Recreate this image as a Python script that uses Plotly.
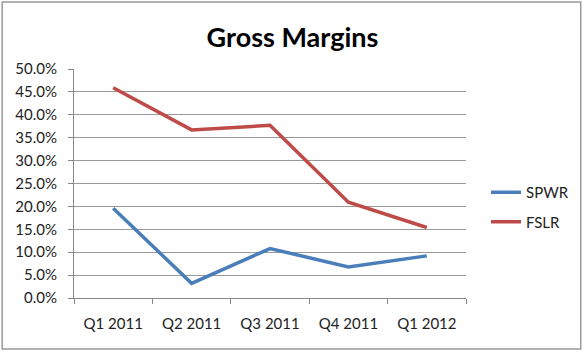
import plotly.graph_objects as go

quarters = ["Q1 2011", "Q2 2011", "Q3 2011", "Q4 2011", "Q1 2012"]
spwr = [0.196, 0.032, 0.108, 0.068, 0.092]
fslr = [0.459, 0.367, 0.377, 0.209, 0.154]
y_ticks = [i * 0.05 for i in range(11)]

W, H = 585, 352
L, R, T, B = 74, 118, 69, 54
pw, ph = W - L - R, H - T - B

def px_x(x):
    return (x - L) / pw

def px_y(y):
    return (H - B - y) / ph

fig = go.Figure()
fig.add_trace(go.Scatter(x=quarters, y=spwr, name="SPWR", mode="lines",
                         line=dict(color="#4a7ebb", width=3.5), legendgroup="a"))
fig.add_trace(go.Scatter(x=quarters, y=fslr, name="FSLR", mode="lines",
                         line=dict(color="#be4b48", width=3.5), legendgroup="b"))

font = "Lato, 'Open Sans', sans-serif"
fig.update_layout(
    width=W, height=H,
    margin=dict(l=L, r=R, t=T, b=B),
    paper_bgcolor="white", plot_bgcolor="white",
    font=dict(family=font, size=15, color="#222"),
    title=dict(text="<b>Gross Margins</b>", x=0.5, xanchor="center",
               y=1 - 38 / H, yanchor="middle", font=dict(size=27, color="#000")),
    xaxis=dict(type="category", range=[-0.5, 4.5], tickson="boundaries",
               ticks="outside", ticklen=5, tickcolor="#888", showline=True,
               linecolor="#888", linewidth=1, showgrid=False, fixedrange=True,
               ticklabelstandoff=12,
               tickfont=dict(size=15, color="#222")),
    yaxis=dict(range=[0, 0.5], tickvals=y_ticks, tickformat=".1%",
               ticks="outside", ticklen=5, tickcolor="#888", showline=True,
               linecolor="#888", linewidth=1, showgrid=True, gridcolor="#999",
               gridwidth=1, zeroline=False, ticklabelstandoff=8,
               tickfont=dict(size=15, color="#222")),
    legend=dict(x=px_x(486), y=px_y(176), xanchor="left", yanchor="top",
                font=dict(size=15, color="#222"), tracegroupgap=7,
                bgcolor="rgba(0,0,0,0)"),
    shapes=[dict(type="rect", xref="paper", yref="paper",
                 x0=px_x(2), x1=px_x(582), y0=px_y(349), y1=px_y(2),
                 line=dict(color="#999", width=1.5), fillcolor="rgba(0,0,0,0)", layer="below")],
)

fig.write_html("out.html")
